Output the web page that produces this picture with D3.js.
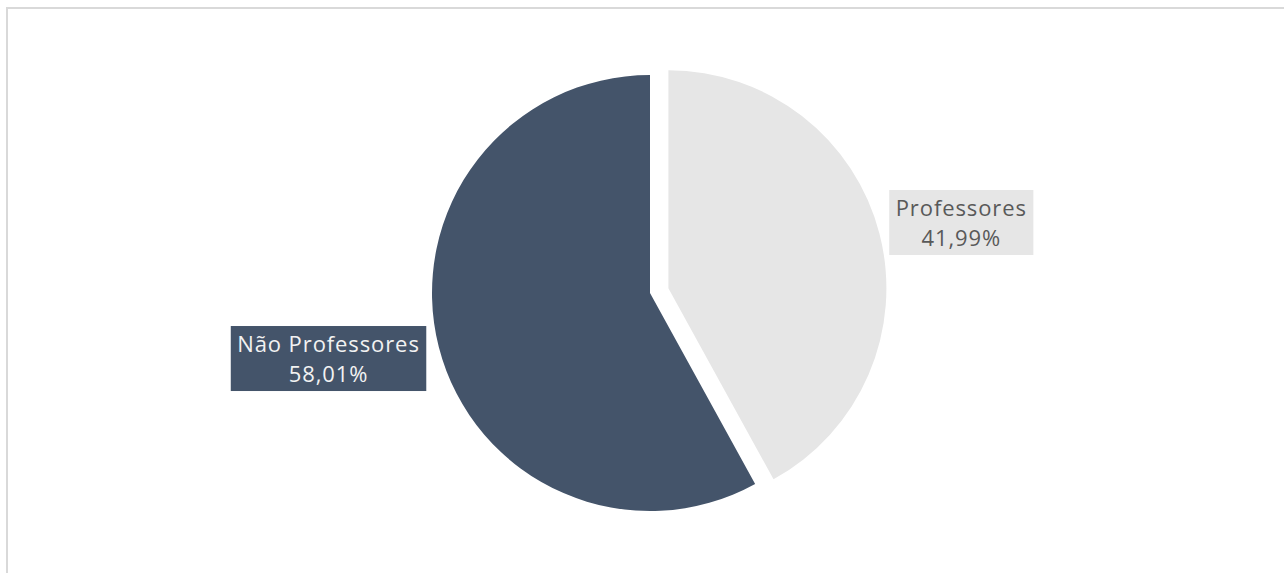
<!DOCTYPE html>
<html>
<head>
<meta charset="utf-8">
<script src="https://cdn.jsdelivr.net/npm/d3@7"></script>
<style>
  html, body { margin: 0; padding: 0; background: #fff; overflow: hidden; }
</style>
</head>
<body>
<div id="chart"></div>
<script>
// data
const categories = ["Professores", "Não Professores"];
const values = [41.99, 58.01];

const width = 1284, height = 573;
const radius = 218;
const cx = 650, cy = 293;

var color = d3.scaleOrdinal()
	.domain(categories)
	.range(["#e6e6e6", "#44546a"]);
var textColor = d3.scaleOrdinal()
	.domain(categories)
	.range(["#595959", "#f2f2f2"]);
// slice pulled out of the pie
var explode = d3.scaleOrdinal()
	.domain(categories)
	.range([19, 0]);

const fmt = d => d3.format(".2f")(d).replace(".", ",") + "%";

const svg = d3.select("#chart").append("svg")
	.attr("width", width)
	.attr("height", height)
	.style("font-family", "'Open Sans', sans-serif");

// chart frame
svg.append("rect")
	.attr("x", 7)
	.attr("y", 8)
	.attr("width", width + 20)
	.attr("height", height + 20)
	.attr("fill", "none")
	.attr("stroke", "#d9d9d9")
	.attr("stroke-width", 2);

const pie = d3.pie().sort(null).value(d => d.value);
const arcs = pie(categories.map((c, i) => ({name: c, value: values[i]})));

const arc = d3.arc().innerRadius(0).outerRadius(radius);

const g = svg.append("g").attr("transform", `translate(${cx},${cy})`);

function offset(d, r) {
	const a = (d.startAngle + d.endAngle) / 2;
	return [Math.sin(a) * r, -Math.cos(a) * r];
}

const slice = g.selectAll("g.slice")
	.data(arcs)
	.join("g")
	.attr("class", "slice")
	.attr("transform", d => {
		const o = offset(d, explode(d.data.name));
		return `translate(${o[0]},${o[1]})`;
	});

slice.append("path")
	.attr("d", arc)
	.attr("fill", d => color(d.data.name));

// labels placed just outside the pie edge
const lab = slice.append("g").attr("class", "label");

lab.each(function(d) {
	const el = d3.select(this);
	const rect = el.append("rect");
	const h = 65;
	const t1 = el.append("text")
		.attr("text-anchor", "middle")
		.attr("font-size", 22)
		.attr("letter-spacing", 0.9)
		.attr("fill", textColor(d.data.name))
		.attr("y", -h / 2 + 26)
		.text(d.data.name);
	const t2 = el.append("text")
		.attr("text-anchor", "middle")
		.attr("font-size", 22)
		.attr("letter-spacing", 0.9)
		.attr("fill", textColor(d.data.name))
		.attr("y", -h / 2 + 56)
		.text(fmt(d.data.value));
	const w = Math.max(t1.node().getComputedTextLength(), t2.node().getComputedTextLength()) + 13;
	rect.attr("x", -w / 2).attr("y", -h / 2)
		.attr("width", w).attr("height", h)
		.attr("fill", color(d.data.name));
	const side = (d.startAngle + d.endAngle) / 2 < Math.PI ? 1 : -1;
	const p = offset(d, radius + (side > 0 ? 10 : 13));
	const dy = side > 0 ? -9 : 8;
	el.attr("transform", `translate(${p[0] + side * w / 2},${p[1] + dy})`);
});
</script>
</body>
</html>
